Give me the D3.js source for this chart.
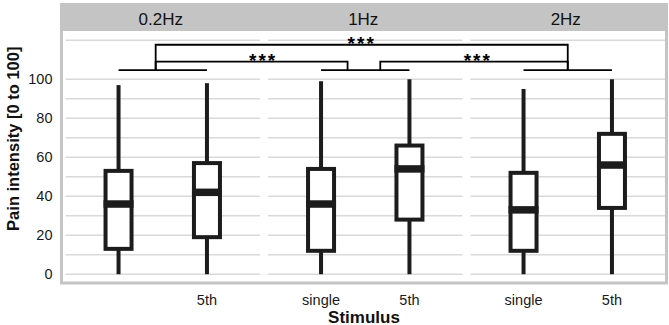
<!DOCTYPE html>
<html>
<head>
<meta charset="utf-8">
<script src="https://cdn.jsdelivr.net/npm/d3@7"></script>
<style>
  html, body { margin: 0; padding: 0; background: #fff; }
  svg { display: block; font-family: Arial, "Liberation Sans", Helvetica, sans-serif; }
</style>
</head>
<body>
<svg id="chart" width="669" height="325"></svg>
<script>
// ---- data ----
const facets = ["0.2Hz", "1Hz", "2Hz"];
const stimuli = ["single", "5th"];
const xTickLabels = ["", "5th", "single", "5th", "single", "5th"];
const whiskerLow  = [0, 0, 0, 0, 0, 0];
const q1          = [13, 19, 12, 28, 12, 34];
const median      = [36, 42, 36, 54, 33, 56];
const q3          = [53, 57, 54, 66, 52, 72];
const whiskerHigh = [97, 98, 99, 100, 95, 100];
const yTicks = [0, 20, 40, 60, 80, 100];
const gridValues = [0, 10, 20, 30, 40, 50, 60, 70, 80, 90, 100, 120];
// significance annotation: per-facet connector level and brackets between facets
const facetLinkLevel = 104.7;
const brackets = [
  { from: 0, fromPos: 0.42, to: 1, toPos: 0.30, level: 109.0, label: "***", labelPos: 0.56 },
  { from: 1, fromPos: 0.67, to: 2, toPos: 0.50, level: 109.0, label: "***", labelPos: 0.52 },
  { from: 0, fromPos: 0.42, to: 2, toPos: 0.50, level: 117.7, label: "***", labelPos: 0.50 }
];

// ---- layout ----
const svg = d3.select("#chart");
const frame = { x0: 60, y0: 3, x1: 668, y1: 284.5, border: 3, stripBottom: 31 };
const panelX0 = 65.5, panelW = 194.5, panelGap = 8;
const plotTop = 31.5, plotBottom = 282;

const fx = d3.scaleBand().domain(facets).range([panelX0, panelX0 + 3 * panelW + 2 * panelGap])
  .paddingInner(panelGap / (panelW + panelGap)).paddingOuter(0);
const xIn = d3.scalePoint().domain(stimuli).range([0, panelW]).padding(0.6);
const y = d3.scaleLinear().domain([-4, 124.5]).range([plotBottom, plotTop]);

const boxX = i => fx(facets[Math.floor(i / 2)]) + xIn(stimuli[i % 2]);

// frame: strip + border
svg.append("rect")
  .attr("x", frame.x0).attr("y", frame.y0)
  .attr("width", frame.x1 - frame.x0).attr("height", frame.stripBottom - frame.y0)
  .attr("fill", "#c4c4c4");
svg.append("rect")
  .attr("x", frame.x0 + frame.border / 2).attr("y", frame.y0 + frame.border / 2)
  .attr("width", frame.x1 - frame.x0 - frame.border).attr("height", frame.y1 - frame.y0 - frame.border)
  .attr("fill", "none").attr("stroke", "#c4c4c4").attr("stroke-width", frame.border);

// strip labels
svg.selectAll("text.strip").data(facets).join("text")
  .attr("class", "strip")
  .attr("x", d => fx(d) + fx.bandwidth() / 2 - 2)
  .attr("y", 25)
  .attr("text-anchor", "middle")
  .attr("font-size", 17)
  .attr("fill", "#111")
  .text(d => d);

// gridlines per panel
facets.forEach(f => {
  svg.append("g").selectAll("line").data(gridValues).join("line")
    .attr("x1", fx(f)).attr("x2", fx(f) + fx.bandwidth())
    .attr("y1", d => y(d)).attr("y2", d => y(d))
    .attr("stroke", "#d9d9d9").attr("stroke-width", 1.6);
});

// y tick labels
svg.append("g").selectAll("text").data(yTicks).join("text")
  .attr("x", 52.5).attr("y", d => y(d))
  .attr("dy", "0.36em")
  .attr("text-anchor", "end")
  .attr("font-size", 14.5)
  .attr("fill", "#1a1a1a")
  .text(d => d);

// x tick labels
svg.append("g").selectAll("text").data(xTickLabels).join("text")
  .attr("x", (d, i) => boxX(i)).attr("y", 304.5)
  .attr("text-anchor", "middle")
  .attr("font-size", 14.5)
  .attr("fill", "#1a1a1a")
  .text(d => d);

// axis titles
svg.append("text")
  .attr("x", 364).attr("y", 322.5)
  .attr("text-anchor", "middle")
  .attr("font-size", 17).attr("font-weight", "bold").attr("fill", "#111")
  .text("Stimulus");
svg.append("text")
  .attr("transform", "translate(18.5," + ((plotTop + plotBottom) / 2 - 18) + ") rotate(-90)")
  .attr("text-anchor", "middle")
  .attr("font-size", 16.5).attr("font-weight", "bold").attr("fill", "#111")
  .text("Pain intensity [0 to 100]");

// boxes
const ink = "#1c1c1c";
const boxHalf = 13;
const boxes = svg.append("g");
d3.range(6).forEach(i => {
  const cx = boxX(i);
  const g = boxes.append("g");
  g.append("line").attr("x1", cx).attr("x2", cx)
    .attr("y1", y(whiskerLow[i])).attr("y2", y(q1[i]))
    .attr("stroke", ink).attr("stroke-width", 4);
  g.append("line").attr("x1", cx).attr("x2", cx)
    .attr("y1", y(q3[i])).attr("y2", y(whiskerHigh[i]))
    .attr("stroke", ink).attr("stroke-width", 4);
  g.append("rect")
    .attr("x", cx - boxHalf).attr("width", boxHalf * 2)
    .attr("y", y(q3[i])).attr("height", y(q1[i]) - y(q3[i]))
    .attr("fill", "#fff").attr("stroke", ink).attr("stroke-width", 4);
  g.append("line").attr("x1", cx - boxHalf - 2).attr("x2", cx + boxHalf + 2)
    .attr("y1", y(median[i])).attr("y2", y(median[i]))
    .attr("stroke", ink).attr("stroke-width", 7.5);
});

// significance annotations
const ann = svg.append("g").attr("fill", "none").attr("stroke", "#000").attr("stroke-width", 1.8);
facets.forEach((f, k) => {
  ann.append("line")
    .attr("x1", boxX(2 * k)).attr("x2", boxX(2 * k + 1))
    .attr("y1", y(facetLinkLevel)).attr("y2", y(facetLinkLevel));
});
const anchorX = (k, pos) => boxX(2 * k) + pos * (boxX(2 * k + 1) - boxX(2 * k));
brackets.forEach(b => {
  const xa = anchorX(b.from, b.fromPos), xb = anchorX(b.to, b.toPos);
  const p = d3.path();
  p.moveTo(xa, y(facetLinkLevel));
  p.lineTo(xa, y(b.level));
  p.lineTo(xb, y(b.level));
  p.lineTo(xb, y(facetLinkLevel));
  ann.append("path").attr("d", p.toString());
  svg.append("text")
    .attr("x", xa + b.labelPos * (xb - xa))
    .attr("y", y(b.level) + 5.5)
    .attr("text-anchor", "middle")
    .attr("font-size", 19).attr("font-weight", "bold")
    .attr("letter-spacing", 2)
    .attr("fill", "#000")
    .text(b.label);
});
</script>
</body>
</html>
